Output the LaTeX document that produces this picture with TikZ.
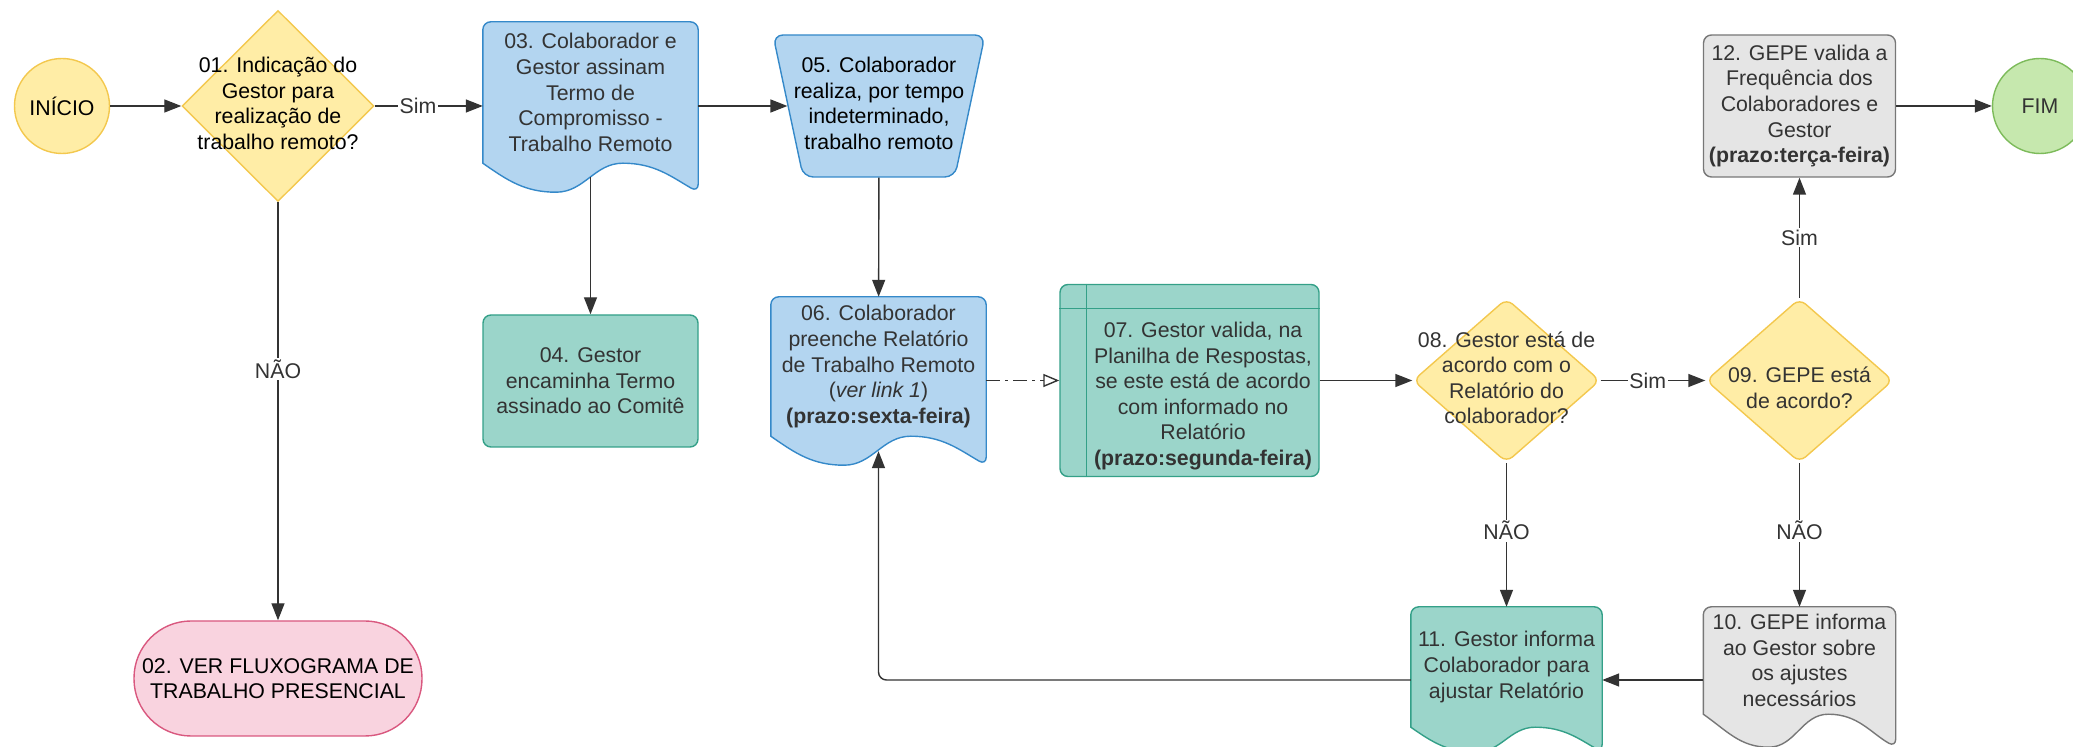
\documentclass[tikz,border=0pt]{standalone}
\usepackage{fontspec}
\setmainfont{Liberation Sans}
\usetikzlibrary{arrows.meta,shapes.geometric,backgrounds,calc}

\definecolor{txtGray}{HTML}{333333}
\definecolor{lineGray}{HTML}{333333}
\definecolor{yelFill}{HTML}{FFEDA6}
\definecolor{yelLine}{HTML}{F3C84E}
\definecolor{bluFill}{HTML}{B3D5F0}
\definecolor{bluLine}{HTML}{3589C9}
\definecolor{teaFill}{HTML}{9BD5CA}
\definecolor{teaLine}{HTML}{34A088}
\definecolor{gryFill}{HTML}{E5E5E5}
\definecolor{gryLine}{HTML}{777777}
\definecolor{pnkFill}{HTML}{F9D3DF}
\definecolor{pnkLine}{HTML}{D9587F}
\definecolor{grnFill}{HTML}{C6E8AE}
\definecolor{grnLine}{HTML}{7DBB5B}

% text that does not size its node
\newcommand\dectext[2][-5pt]{\raisebox{#1}[0pt][0pt]{\makebox[0pt]{\begin{tabular}{@{}c@{}}#2\end{tabular}}}}

% Drawing a document shape behind a text node
\newcommand\docshape[3]{%
  \begin{scope}[on background layer]
    \path[#2, line width=1.4pt] (#1.south west) [rounded corners=8pt] -- (#1.north west) -- (#1.north east) -- ($(#1.south east)+(0,-#3)$) [sharp corners]
      to[out=150,in=0] ($(#1.south west)!0.65!(#1.south east)$)
      to[out=180,in=0] ($(#1.south west)!0.34!(#1.south east)+(0,-#3)$)
      to[out=180,in=-35] (#1.south west) -- cycle;
  \end{scope}}

\begin{document}
\begin{tikzpicture}[x=1pt,y=1pt,
    font=\fontsize{21.3pt}{25.6pt}\selectfont,
    every node/.style={text=txtGray},
    startend/.style={circle, minimum size=95pt, inner sep=1pt, line width=1.4pt},
    decision/.style={diamond, inner sep=0pt, fill=yelFill, draw=yelLine, line width=1.4pt},
    process/.style={rectangle, rounded corners=8pt, inner sep=0pt, align=center, line width=1.4pt},
    docnode/.style={rectangle, inner sep=0pt, align=center},
    arrowline/.style={draw=lineGray, line width=1.4pt, -{Triangle[length=17pt,width=13pt]}},
    flowdash/.style={draw=lineGray, line width=1.4pt, dash pattern=on 14pt off 5pt on 3pt off 5pt, -{Triangle[open,length=16pt,width=13pt,fill=white]}},
    choice/.style={fill=white, inner sep=1.5pt, text=txtGray}]
\useasboundingbox (0,0) rectangle (2073,747);

% Drawing start, decisions and tasks
\node[startend, fill=yelFill, draw=yelLine, text=black] (inicio) at (62,641) {INÍCIO};
\node[decision, minimum width=192pt, minimum height=191pt, text=black] (dec01) at (278,641) {\dectext{01. Indicação do\\Gestor para\\realização de\\trabalho remoto?}};
\node[docnode, minimum width=215pt, minimum height=141pt] (doc03) at (590.5,654.5) {03. Colaborador e\\Gestor assinam\\Termo de\\Compromisso -\\Trabalho Remoto};
\node[process, fill=teaFill, draw=teaLine, minimum width=215pt, minimum height=132pt] (box04) at (590.5,366) {04. Gestor\\encaminha Termo\\assinado ao Comitê};
\node[trapezium, trapezium left angle=78, trapezium right angle=78, shape border rotate=180, rounded corners=10pt, inner sep=0pt, fill=bluFill, draw=bluLine, line width=1.4pt, text=black] (task05) at (879,641) {\makebox[151.6pt]{\rule[-71pt]{0pt}{142pt}\dectext{05. Colaborador\\realiza, por tempo\\indeterminado,\\trabalho remoto}}};
\node[docnode, minimum width=215pt, minimum height=139pt] (doc06) at (878.5,380.5) {06. Colaborador\\preenche Relatório\\de Trabalho Remoto\\(\textit{ver link 1})\\\textbf{(prazo:sexta-feira)}};
\node[rectangle, rounded corners=8pt, inner sep=0pt, line width=1.4pt, fill=teaFill, draw=teaLine, minimum width=259pt, minimum height=192pt] (box07) at (1189.5,366.5) {\raisebox{-21pt}[0pt][0pt]{\makebox[0pt]{\hspace{27pt}\begin{tabular}{@{}c@{}}07. Gestor valida, na\\Planilha de Respostas,\\se este está de acordo\\com informado no\\Relatório\\\textbf{(prazo:segunda-feira)}\end{tabular}}}};
\draw[teaLine, line width=1.4pt] ([xshift=27pt]box07.north west) -- ([xshift=27pt]box07.south west);
\draw[teaLine, line width=1.4pt] ([yshift=-25pt]box07.north west) -- ([yshift=-25pt]box07.north east);
\node[decision, rounded corners=8pt, minimum width=187pt, minimum height=164pt] (dec08) at (1506.5,366.5) {\dectext{08. Gestor está de\\acordo com o\\Relatório do\\colaborador?}};
\node[decision, rounded corners=8pt, minimum width=187pt, minimum height=164pt] (dec09) at (1799.5,366.5) {\dectext[-15pt]{09. GEPE está\\de acordo?}};
\node[process, fill=gryFill, draw=gryLine, minimum width=192pt, minimum height=142pt] (box12) at (1799.5,641) {12. GEPE valida a\\Frequência dos\\Colaboradores e\\Gestor\\\textbf{(prazo:terça-feira)}};
\node[startend, fill=grnFill, draw=grnLine] (fim) at (2040,641) {FIM};
\node[docnode, minimum width=192pt, minimum height=107pt] (doc10) at (1799.5,86.5) {10. GEPE informa\\ao Gestor sobre\\os ajustes\\necessários};
\node[docnode, minimum width=191pt, minimum height=120pt] (doc11) at (1506.5,80) {11. Gestor informa\\Colaborador para\\ajustar Relatório};
\node[process, rounded corners=57pt, fill=pnkFill, draw=pnkLine, text=black, minimum width=288pt, minimum height=115pt] (term02) at (278,68.5) {02. VER FLUXOGRAMA DE\\TRABALHO PRESENCIAL};

% Drawing document shapes
\docshape{doc03}{fill=bluFill, draw=bluLine}{29pt}
\docshape{doc06}{fill=bluFill, draw=bluLine}{29pt}
\docshape{doc10}{fill=gryFill, draw=gryLine}{33pt}
\docshape{doc11}{fill=teaFill, draw=teaLine}{25pt}

% Drawing connectors
\draw[arrowline] (inicio) -- (dec01);
\draw[arrowline] (dec01) -- node[choice, pos=0.4] {Sim} (dec01 -| doc03.west);
\draw[arrowline] (dec01) -- node[choice, pos=0.4] {NÃO} (term02);
\draw[arrowline] (doc03.east |- task05) -- (task05);
\draw[arrowline] ([yshift=-14pt]doc03.south) -- (box04);
\draw[arrowline] (task05) -- (doc06);
\draw[flowdash] (doc06.east |- box07) -- (box07);
\draw[arrowline] (box07) -- (dec08);
\draw[arrowline] (dec08) -- node[choice, pos=0.45] {Sim} (dec09);
\draw[arrowline] (dec09) -- node[choice] {Sim} (box12);
\draw[arrowline] (box12) -- (fim);
\draw[arrowline] (dec08) -- node[choice, pos=0.47] {NÃO} (doc11);
\draw[arrowline] (dec09) -- node[choice, pos=0.47] {NÃO} (doc10);
\draw[arrowline] ($(doc10.west |- doc11.east)+(0,-13)$) -- ([yshift=-13pt]doc11.east);
\draw[arrowline, rounded corners=8pt] ([yshift=-13pt]doc11.west) -| ([yshift=-15pt]doc06.south);
\end{tikzpicture}
\end{document}
